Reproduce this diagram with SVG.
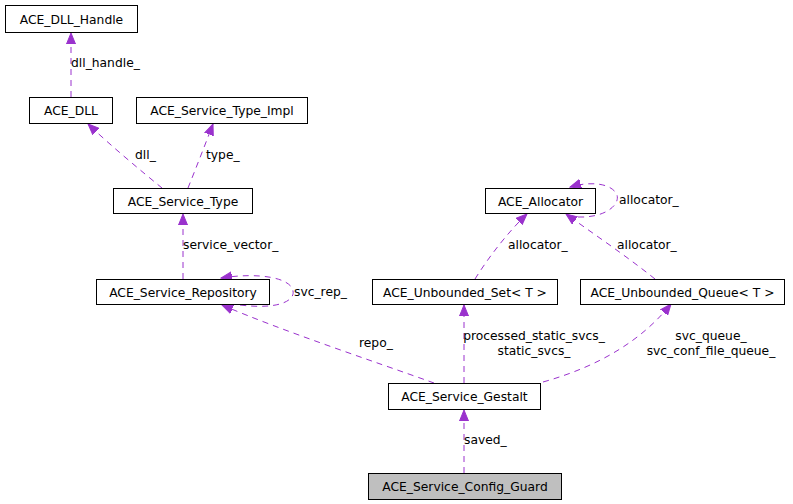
<svg xmlns="http://www.w3.org/2000/svg" width="793" height="504" viewBox="0 0 793 504">
<style>
.n rect{fill:#fff;stroke:#000;stroke-width:1}
.n text,.l{font-family:"DejaVu Sans",sans-serif;font-size:12.3px;fill:#000}
.n text{text-anchor:middle}
.e path{fill:none;stroke:#9a32cd;stroke-width:1;stroke-dasharray:6,5}
.mid{text-anchor:middle}
</style>
<defs>
<marker id="ah" markerUnits="userSpaceOnUse" markerWidth="12" markerHeight="10" refX="11" refY="5" orient="auto">
<path d="M0,0.5 L11,5 L0,9.5 z" fill="#9a32cd" stroke="#9a32cd"/>
</marker>
</defs>
<rect width="793" height="504" fill="#fff"/>
<g id="edges" class="e">
<path d="M71,97 L71,33" marker-end="url(#ah)"/>
<path d="M162,188 C140,170 110,145 88,124" marker-end="url(#ah)"/>
<path d="M188,188 C196,168 205,145 213,124" marker-end="url(#ah)"/>
<path d="M183,279 L183,214" marker-end="url(#ah)"/>
<path d="M240,305 C280,310 295,300 293,291 C291,278 260,272 221,278" marker-end="url(#ah)"/>
<path d="M434,383 C370,360 280,330 222,305" marker-end="url(#ah)"/>
<path d="M464,383 L464,305" marker-end="url(#ah)"/>
<path d="M543,382 C600,366 642,340 671,304" marker-end="url(#ah)"/>
<path d="M464,473 L464,410" marker-end="url(#ah)"/>
<path d="M475,279 C490,255 510,230 527,214" marker-end="url(#ah)"/>
<path d="M655,279 C625,255 595,235 566,214" marker-end="url(#ah)"/>
<path d="M578,217 C605,218 620,205 617,195 C612,183 590,181 570,187" marker-end="url(#ah)"/>
</g>
<g id="labels">
<text class="l" x="71" y="67">dll_handle_</text>
<text class="l" x="135" y="159">dll_</text>
<text class="l" x="206" y="159">type_</text>
<text class="l" x="183" y="249">service_vector_</text>
<text class="l" x="294" y="296">svc_rep_</text>
<text class="l" x="619" y="204">allocator_</text>
<text class="l" x="508" y="249">allocator_</text>
<text class="l" x="617" y="249">allocator_</text>
<text class="l" x="359" y="347">repo_</text>
<text class="l mid" x="534" y="340">processed_static_svcs_</text>
<text class="l mid" x="534" y="355">static_svcs_</text>
<text class="l mid" x="711" y="340">svc_queue_</text>
<text class="l mid" x="711" y="355">svc_conf_file_queue_</text>
<text class="l" x="464" y="444">saved_</text>
</g>
<g id="n_dll_handle" class="n"><rect x="5.5" y="5.5" width="132" height="27"/><text x="71.5" y="23.5">ACE_DLL_Handle</text></g>
<g id="n_dll" class="n"><rect x="29.5" y="97.5" width="83" height="26"/><text x="71" y="115">ACE_DLL</text></g>
<g id="n_type_impl" class="n"><rect x="136.5" y="97.5" width="171" height="26"/><text x="222" y="115">ACE_Service_Type_Impl</text></g>
<g id="n_service_type" class="n"><rect x="113.5" y="188.5" width="139" height="25"/><text x="183" y="205.5">ACE_Service_Type</text></g>
<g id="n_repository" class="n"><rect x="96.5" y="279.5" width="173" height="25"/><text x="183" y="296.5">ACE_Service_Repository</text></g>
<g id="n_allocator" class="n"><rect x="485.5" y="188.5" width="110" height="25"/><text x="540.5" y="205.5">ACE_Allocator</text></g>
<g id="n_set" class="n"><rect x="372.5" y="279.5" width="185" height="25"/><text x="465" y="296.5">ACE_Unbounded_Set&lt; T &gt;</text></g>
<g id="n_queue" class="n"><rect x="580.5" y="279.5" width="204" height="25"/><text x="682.5" y="296.5">ACE_Unbounded_Queue&lt; T &gt;</text></g>
<g id="n_gestalt" class="n"><rect x="388.5" y="383.5" width="152" height="26"/><text x="464.5" y="401">ACE_Service_Gestalt</text></g>
<g id="n_guard" class="n"><rect x="368.5" y="473.5" width="193" height="26" style="fill:#bfbfbf"/><text x="465" y="491">ACE_Service_Config_Guard</text></g>
</svg>
